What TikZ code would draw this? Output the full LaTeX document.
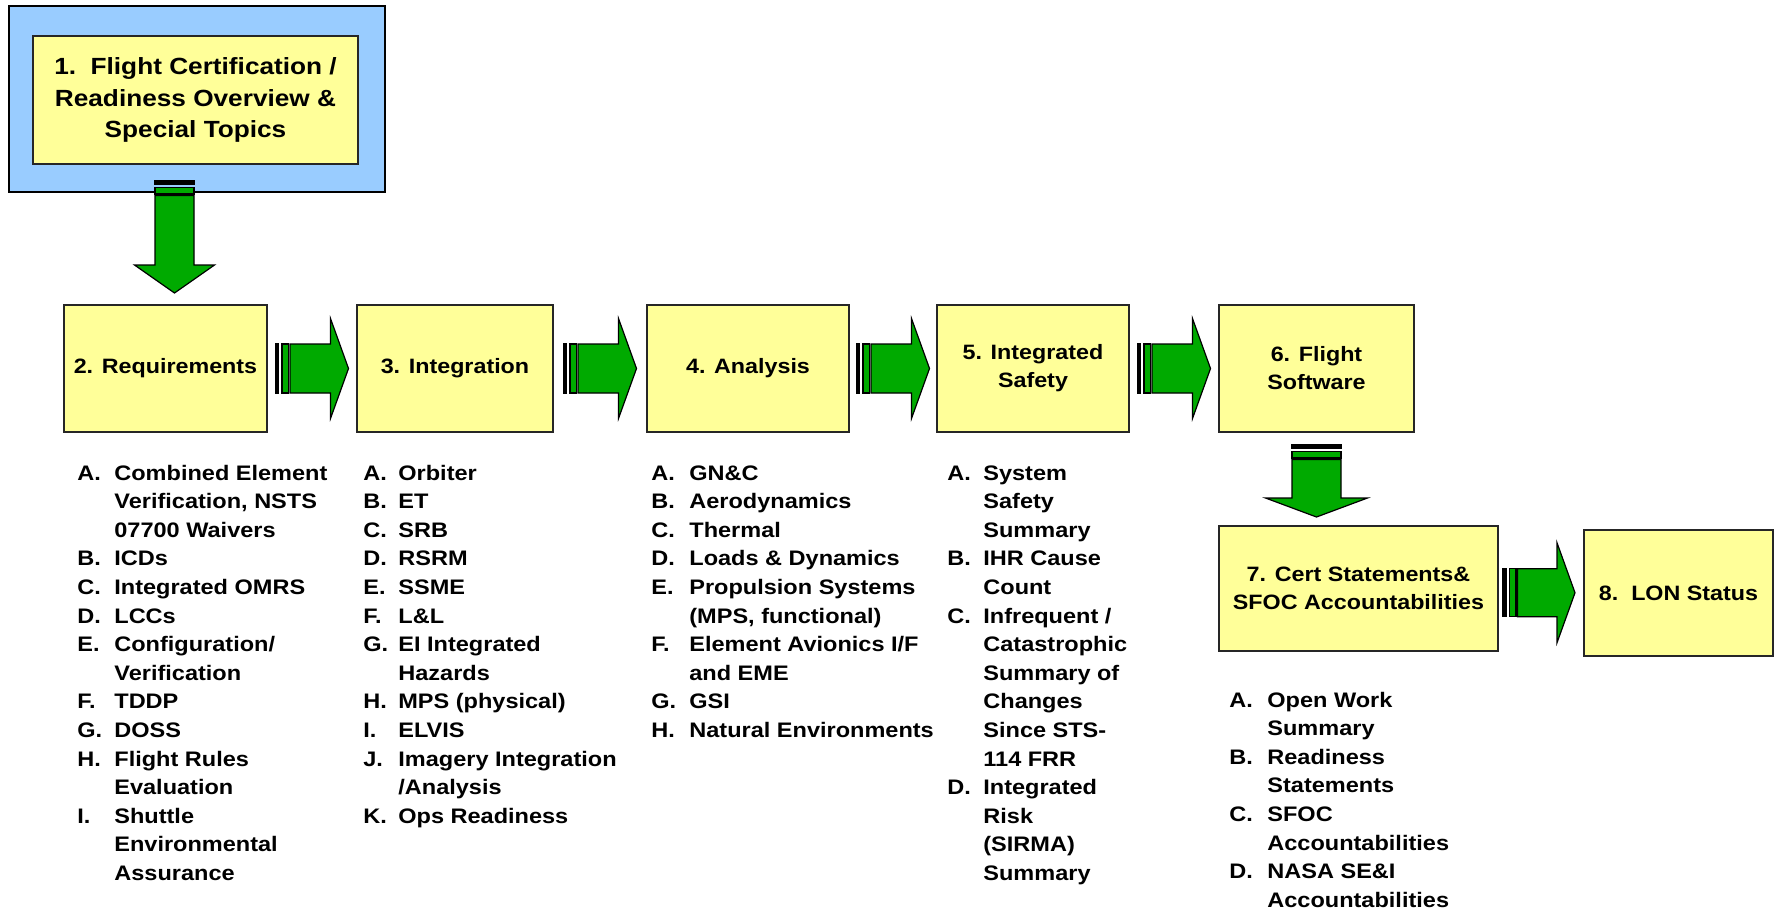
\documentclass[tikz,border=0pt]{standalone}
\usepackage{fontspec}
\setmainfont{Liberation Sans}[FakeStretch=1.12]
\usetikzlibrary{calc}
\definecolor{boxyellow}{HTML}{FFFF99}
\definecolor{panelblue}{HTML}{99CCFF}
\definecolor{arrowgreen}{HTML}{00AA00}

\tikzset{
  stage/.style={draw=black!85, line width=1pt, fill=boxyellow, align=center,
    minimum height=63.5pt, inner sep=2pt, font=\fontsize{10.4}{14}\selectfont\bfseries},
  itemlist/.style={anchor=base west, inner sep=0pt, font=\fontsize{10.5}{14.3}\selectfont\bfseries},
  arrowpart/.style={draw=black, line width=0.6pt, fill=arrowgreen},
  % striped block arrow: length, shaft half width, head half width, head length
  pics/stripearrow/.style n args={4}{code={
    \path[arrowpart, fill=black] (-#1/2,-#2) rectangle (-#1/2+3,#2);
    \path[arrowpart] (-#1/2+6.5,-#2) rectangle (-#1/2+13,#2);
    \path[arrowpart] (-#1/2+14.5,-#2) -- (#1/2-#4,-#2) -- (#1/2-#4,-#3) -- (#1/2,0)
      -- (#1/2-#4,#3) -- (#1/2-#4,#2) -- (-#1/2+14.5,#2) -- cycle;
  }}
}

\begin{document}
\begin{tikzpicture}[x=0.5pt, y=-0.5pt]
  \useasboundingbox[fill=white] (0,0) rectangle (1774,911);

  % Overview
  \node[draw=black, line width=0.8pt, fill=panelblue, minimum width=188pt, minimum height=93pt]
    (overview) at (197,99) {};
  \node[stage, minimum width=162.5pt, minimum height=64pt, font=\fontsize{11.7}{15.75}\selectfont\bfseries]
    (cert) at (195.5,100) {1.\ \ Flight Certification /\\Readiness Overview \&\\Special Topics};

  % Stages
  \node[stage, minimum width=101.5pt] (req) at (165.5,368.5) {2. Requirements};
  \node[stage, minimum width=98pt] (integ) at (455,368.5) {3. Integration};
  \node[stage, minimum width=101pt] (anal) at (748,368.5) {4. Analysis};
  \node[stage, minimum width=96pt] (safety) at (1033,368.5) {5. Integrated\\Safety};
  \node[stage, minimum width=97.5pt] (fsw) at (1316.5,368.5) {6. Flight\\Software};
  \node[stage, minimum width=139.5pt, minimum height=62.5pt] (certstat) at (1358.5,588.5)
    {7. Cert Statements\&\\SFOC Accountabilities};
  \node[stage, minimum width=94.5pt, minimum height=63pt] (lon) at (1678.5,593) {8.\ \ LON Status};

  % Arrows
  \pic[rotate=-90] at ($(cert.south)!0.5!(req.north)+(-6,2.5)$) {stripearrow={112}{19.5}{40}{28}};
  \pic at ($(req.east)!0.5!(integ.west)$) {stripearrow={73}{24.5}{50}{18}};
  \pic at ($(integ.east)!0.5!(anal.west)$) {stripearrow={73}{24.5}{50}{18}};
  \pic at ($(anal.east)!0.5!(safety.west)$) {stripearrow={73}{24.5}{50}{18}};
  \pic at ($(safety.east)!0.5!(fsw.west)$) {stripearrow={73}{24.5}{50}{18}};
  \pic[rotate=-90] at ($(fsw.south)!0.5!(fsw.south |- certstat.north)+(0,2)$) {stripearrow={72}{24.5}{51}{19}};
  \pic at ($(certstat.east)!0.5!(lon.west)+(-2,2)$) {stripearrow={72}{24}{50}{18}};

  % Item lists
  \node[itemlist] (reqlist) at (77,480) {\begin{tabular}[t]{@{}p{18.5pt}@{}l@{}}
    A. & Combined Element\\ & Verification, NSTS\\ & 07700 Waivers\\
    B. & ICDs\\
    C. & Integrated OMRS\\
    D. & LCCs\\
    E. & Configuration/\\ & Verification\\
    F. & TDDP\\
    G. & DOSS\\
    H. & Flight Rules\\ & Evaluation\\
    I. & Shuttle\\ & Environmental\\ & Assurance
  \end{tabular}};
  \node[itemlist] (integlist) at (363,480) {\begin{tabular}[t]{@{}p{17.5pt}@{}l@{}}
    A. & Orbiter\\
    B. & ET\\
    C. & SRB\\
    D. & RSRM\\
    E. & SSME\\
    F. & L\&L\\
    G. & EI Integrated\\ & Hazards\\
    H. & MPS (physical)\\
    I. & ELVIS\\
    J. & Imagery Integration\\ & /Analysis\\
    K. & Ops Readiness
  \end{tabular}};
  \node[itemlist] (anallist) at (651,480) {\begin{tabular}[t]{@{}p{19pt}@{}l@{}}
    A. & GN\&C\\
    B. & Aerodynamics\\
    C. & Thermal\\
    D. & Loads \& Dynamics\\
    E. & Propulsion Systems\\ & (MPS, functional)\\
    F. & Element Avionics I/F\\ & and EME\\
    G. & GSI\\
    H. & Natural Environments
  \end{tabular}};
  \node[itemlist] (safetylist) at (947,480) {\begin{tabular}[t]{@{}p{18pt}@{}l@{}}
    A. & System\\ & Safety\\ & Summary\\
    B. & IHR Cause\\ & Count\\
    C. & Infrequent /\\ & Catastrophic\\ & Summary of\\ & Changes\\ & Since STS-\\ & 114 FRR\\
    D. & Integrated\\ & Risk\\ & (SIRMA)\\ & Summary
  \end{tabular}};
  \node[itemlist] (certlist) at (1229,707) {\begin{tabular}[t]{@{}p{19pt}@{}l@{}}
    A. & Open Work\\ & Summary\\
    B. & Readiness\\ & Statements\\
    C. & SFOC\\ & Accountabilities\\
    D. & NASA SE\&I\\ & Accountabilities
  \end{tabular}};
\end{tikzpicture}
\end{document}
